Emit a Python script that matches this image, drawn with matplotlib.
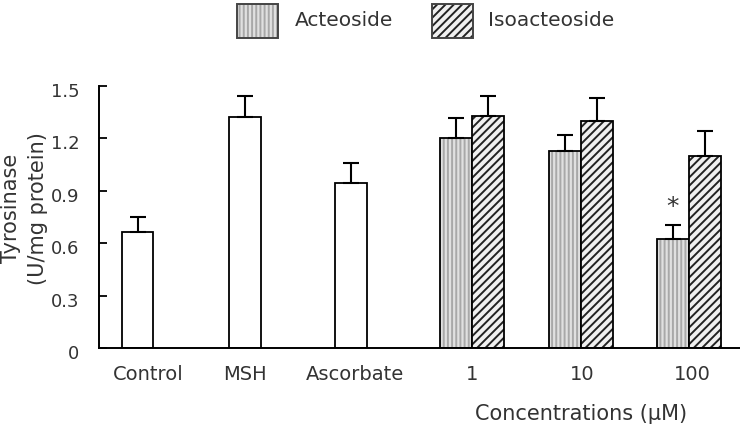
import matplotlib
matplotlib.use("Agg")
import matplotlib.pyplot as plt
import matplotlib.patches as mpatches
import matplotlib.transforms as mtransforms
import numpy as np

# controls (single white bars)
single_labels = ["Control", "MSH", "Ascorbate"]
single_vals = [0.665, 1.32, 0.945]
single_err = [0.085, 0.12, 0.115]

# treatments, by concentration
conc_labels = ["1", "10", "100"]
acteoside = [1.20, 1.13, 0.625]
acteoside_err = [0.115, 0.09, 0.08]
isoacteoside = [1.33, 1.30, 1.10]
isoacteoside_err = [0.11, 0.13, 0.14]

plt.rcParams["font.family"] = ["DejaVu Sans"]
plt.rcParams["hatch.linewidth"] = 1.4

txt = "#333333"
act_face, act_hatch = "#e0e0e0", "#a8a8a8"
iso_face, iso_hatch = "#f0f0f0", "#222222"

fig = plt.figure(figsize=(7.4, 4.24), dpi=100)
ax = fig.add_axes([99 / 740, 76 / 424, 641 / 740, 262 / 424])

# layout (x positions in axis units, left spine = 0)
single_pos = np.array([38.5, 146, 252])
group_pos = np.array([373, 482, 589.5])
w1 = 31.5
w2 = 32
ekw = dict(lw=1.5, capthick=1.5, ecolor="black")

ax.bar(single_pos, single_vals, w1, color="white", edgecolor="black", lw=1.3,
       yerr=[np.zeros(3), single_err], capsize=5.5, error_kw=ekw)

xa = group_pos - w2 / 2
xi = group_pos + w2 / 2
# acteoside: fine light gray texture
ax.bar(xa, acteoside, w2, color=act_face, edgecolor=act_hatch, lw=0, hatch="||||")
ax.bar(xa, acteoside, w2, color="none", edgecolor="black", lw=1.3,
       yerr=[np.zeros(3), acteoside_err], capsize=5.5, error_kw=ekw)
# isoacteoside: diagonal lines
ax.bar(xi, isoacteoside, w2, color=iso_face, edgecolor=iso_hatch, lw=0, hatch="////")
ax.bar(xi, isoacteoside, w2, color="none", edgecolor="black", lw=1.3,
       yerr=[np.zeros(3), isoacteoside_err], capsize=5.5, error_kw=ekw)

# significance mark
ax.text(xa[2], acteoside[2] + acteoside_err[2] + 0.1, "*", ha="center", va="center",
        fontsize=18, color=txt)

ax.set_xlim(0, 641)
ax.set_ylim(0, 1.5)
ax.set_yticks([0, 0.3, 0.6, 0.9, 1.2, 1.5])
ax.set_yticklabels(["0", "0.3", "0.6", "0.9", "1.2", "1.5"])
ax.tick_params(axis="y", direction="in", length=6, width=1.3, pad=14,
               labelsize=13, labelcolor=txt)
# labels sit a little below their ticks in the original
shift = mtransforms.ScaledTranslation(0, -4 / 100, fig.dpi_scale_trans)
for lab in ax.get_yticklabels():
    lab.set_transform(lab.get_transform() + shift)

tick_pos = [49, 146, 256, 373, 483, 593]
ax.set_xticks(tick_pos)
ax.set_xticklabels(single_labels + conc_labels)
ax.tick_params(axis="x", length=0, pad=12, labelsize=14, labelcolor=txt)

for s in ["top", "right"]:
    ax.spines[s].set_visible(False)
for s in ["left", "bottom"]:
    ax.spines[s].set_linewidth(1.4)

fig.text(11 / 740, 1 - 208 / 424, "Tyrosinase", rotation=90,
         ha="center", va="center", fontsize=15, color=txt)
fig.text(38 / 740, 1 - 209 / 424, "(U/mg protein)", rotation=90,
         ha="center", va="center", fontsize=15, color=txt)
fig.text(581 / 740, 1 - 414 / 424, "Concentrations (\u03bcM)", ha="center", va="center",
         fontsize=15, color=txt)

# legend, drawn by hand at the top
legend_items = [("Acteoside", act_face, act_hatch, "||||", 237, 295),
                ("Isoacteoside", iso_face, iso_hatch, "////", 432, 488)]
for name, face, hcol, hatch, px, tx in legend_items:
    r = mpatches.Rectangle((px / 740, 1 - 38 / 424), 41 / 740, 34 / 424,
                           transform=fig.transFigure, facecolor=face,
                           edgecolor=hcol, hatch=hatch, lw=0)
    fig.add_artist(r)
    r2 = mpatches.Rectangle((px / 740, 1 - 38 / 424), 41 / 740, 34 / 424,
                            transform=fig.transFigure, facecolor="none",
                            edgecolor="#444444", lw=1.4)
    fig.add_artist(r2)
    fig.text(tx / 740, 1 - 20 / 424, name, ha="left", va="center",
             fontsize=14.5, color=txt)

fig.savefig("out.png", dpi=100)
